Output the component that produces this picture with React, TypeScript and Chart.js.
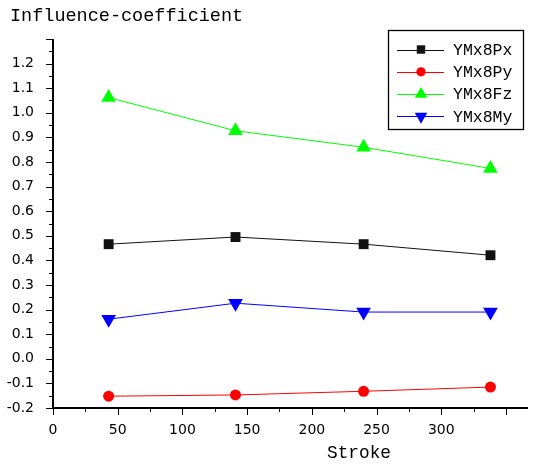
import { useEffect, useRef } from 'react';
import { Chart, registerables } from 'chart.js';
import { drawPoint } from 'chart.js/helpers';

Chart.register(...registerables);

// ---- data ----
const strokes = [43, 141, 240, 338];
const ymx8Px = [0.466, 0.495, 0.466, 0.421];
const ymx8Py = [-0.152, -0.147, -0.132, -0.115];
const ymx8Fz = [1.062, 0.927, 0.86, 0.774];
const ymx8My = [0.161, 0.226, 0.19, 0.19];
const seriesNames = ['YMx8Px', 'YMx8Py', 'YMx8Fz', 'YMx8My'];
const yTitle = 'Influence-coefficient';
const xTitle = 'Stroke';
const xMin = 0;
const xMax = 367;
const yMin = -0.2;
const yMax = 1.3;

const seriesValues = [ymx8Px, ymx8Py, ymx8Fz, ymx8My];
const seriesColors = ['#111111', '#ff0000', '#00ff00', '#0000ff'];
const seriesStyles: any[] = [
  { pointStyle: 'rect', radius: 7, rotation: 0 },
  { pointStyle: 'circle', radius: 5.5, rotation: 0 },
  { pointStyle: 'triangle', radius: 8.5, rotation: 0 },
  { pointStyle: 'triangle', radius: 8.5, rotation: 180 },
];

const MONO = '"Liberation Mono", "DejaVu Sans Mono", monospace';
const TICK_FONT = { family: '"DejaVu Sans"', size: 14 };

const decorPlugin = {
  id: 'decor',
  afterDraw(chart: any) {
    const { ctx, chartArea: ca, scales } = chart;
    const x = scales.x;
    const y = scales.y;
    ctx.save();
    // axes
    ctx.strokeStyle = '#000';
    ctx.lineWidth = 2;
    ctx.beginPath();
    ctx.moveTo(ca.left, ca.top);
    ctx.lineTo(ca.left, ca.bottom);
    ctx.lineTo(ca.right, ca.bottom);
    ctx.stroke();
    // y ticks
    ctx.lineWidth = 1;
    ctx.beginPath();
    for (let i = 0; i <= Math.round((yMax - yMin) / 0.05); i++) {
      const v = yMin + i * 0.05;
      const yy = Math.round(y.getPixelForValue(v)) + 0.5;
      const len = i % 2 === 0 ? 7 : 4;
      ctx.moveTo(ca.left - len, yy);
      ctx.lineTo(ca.left, yy);
    }
    // x ticks
    for (let i = 0; xMin + i * 25 <= xMax; i++) {
      const v = xMin + i * 25;
      const xx = Math.round(x.getPixelForValue(v)) + 0.5;
      const len = i % 2 === 0 ? 7 : 4;
      ctx.moveTo(xx, ca.bottom);
      ctx.lineTo(xx, ca.bottom + len);
    }
    ctx.stroke();

    // titles
    ctx.fillStyle = '#000';
    ctx.textBaseline = 'alphabetic';
    ctx.textAlign = 'left';
    ctx.font = `18.5px ${MONO}`;
    ctx.fillText(yTitle, 10, 21);
    ctx.font = `17.8px ${MONO}`;
    ctx.fillText(xTitle, 327, 458);

    // legend
    const bx = 388.5, by = 30.5, bw = 135, bh = 99;
    ctx.lineWidth = 1.3;
    ctx.strokeStyle = '#000';
    ctx.strokeRect(bx, by, bw, bh);
    ctx.font = `16.5px ${MONO}`;
    ctx.textBaseline = 'middle';
    seriesNames.forEach((name, i) => {
      const ry = 49.5 + i * 22.3;
      ctx.strokeStyle = seriesColors[i];
      ctx.lineWidth = 1;
      ctx.beginPath();
      ctx.moveTo(397, Math.round(ry) + 0.5);
      ctx.lineTo(444, Math.round(ry) + 0.5);
      ctx.stroke();
      ctx.fillStyle = seriesColors[i];
      const st = seriesStyles[i];
      drawPoint(ctx, {
        pointStyle: st.pointStyle,
        radius: st.radius * 0.85,
        rotation: st.rotation,
        borderWidth: 0,
      } as any, 421, ry);
      ctx.fillStyle = '#000';
      ctx.fillText(name, 453, ry + 1);
    });
    ctx.restore();
  },
};

export default function App() {
  const ref = useRef<HTMLCanvasElement | null>(null);
  useEffect(() => {
    if (!ref.current) return;
    const chart = new Chart(ref.current, {
      type: 'line',
      data: {
        datasets: seriesNames.map((name, i) => ({
          label: name,
          data: strokes.map((s, j) => ({ x: s, y: seriesValues[i][j] })),
          borderColor: seriesColors[i],
          backgroundColor: seriesColors[i],
          borderWidth: 1,
          pointStyle: seriesStyles[i].pointStyle,
          pointRadius: seriesStyles[i].radius,
          pointRotation: seriesStyles[i].rotation,
          pointBorderWidth: 0,
          tension: 0,
          clip: false as any,
        })),
      },
      options: {
        animation: false,
        responsive: false,
        devicePixelRatio: 1,
        layout: { padding: { left: 0, top: 39, right: 10, bottom: 0 } },
        plugins: {
          legend: { display: false },
          tooltip: { enabled: false },
          title: { display: false },
        },
        scales: {
          x: {
            type: 'linear',
            min: xMin,
            max: xMax,
            grid: { display: false },
            border: { display: false },
            afterFit: (s: any) => { s.height = 57; },
            ticks: {
              stepSize: 50,
              autoSkip: false,
              maxRotation: 0,
              padding: 6,
              color: '#000',
              font: TICK_FONT,
              callback: (v: any) => (Number(v) % 50 === 0 ? String(v) : ''),
            },
          },
          y: {
            type: 'linear',
            min: yMin,
            max: yMax,
            grid: { display: false },
            border: { display: false },
            afterFit: (s: any) => { s.width = 53; },
            ticks: {
              stepSize: 0.1,
              autoSkip: false,
              padding: 11,
              color: '#000',
              font: TICK_FONT,
              callback: (v: any) => {
                const r = Math.round(Number(v) * 10) / 10;
                if (r > 1.25) return '';
                return r.toFixed(1);
              },
            },
          },
        },
      },
      plugins: [decorPlugin],
    });
    return () => chart.destroy();
  }, []);
  return (
    <div style={{ position: 'fixed', left: 0, top: 0, width: 538, height: 465, background: '#fff' }}>
      <canvas ref={ref} width={538} height={465} style={{ display: 'block' }} />
    </div>
  );
}
